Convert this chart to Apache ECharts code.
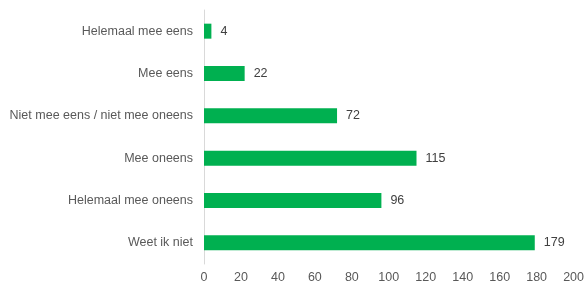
<!DOCTYPE html>
<html>
<head>
<meta charset="utf-8">
<script src="https://cdn.jsdelivr.net/npm/echarts@6/dist/echarts.min.js"></script>
<style>
  html, body { margin: 0; padding: 0; background: #fff; }
  #chart { width: 587px; height: 284px; }
</style>
</head>
<body>
<div id="chart"></div>
<script>
// top to bottom as in the picture
const categories = ['Helemaal mee eens', 'Mee eens', 'Niet mee eens / niet mee oneens', 'Mee oneens', 'Helemaal mee oneens', 'Weet ik niet']
const counts = [4, 22, 72, 115, 96, 179]
const xTicks = [0, 20, 40, 60, 80, 100, 120, 140, 160, 180, 200]

const chart = echarts.init(document.getElementById('chart'))

chart.setOption({
  animation: false,
  textStyle: { fontFamily: 'Liberation Sans, Arial, sans-serif' },
  grid: {
    left: 204,
    right: 11,
    top: 10,
    bottom: 19.5
  },
  xAxis: {
    type: 'value',
    min: xTicks[0],
    max: xTicks[xTicks.length - 1],
    interval: 20,
    axisLine: { show: false },
    axisTick: { show: false },
    splitLine: { show: false },
    axisLabel: { color: '#595959', fontSize: 12.5, margin: 7 }
  },
  yAxis: {
    type: 'category',
    inverse: true,
    data: categories,
    axisLine: { show: true, lineStyle: { color: '#d9d9d9', width: 1 } },
    axisTick: { show: false },
    axisLabel: { color: '#595959', fontSize: 12.5, margin: 11 }
  },
  series: [
    {
      type: 'bar',
      data: counts,
      barWidth: 15,
      itemStyle: { color: '#00b050' },
      label: {
        show: true,
        position: 'right',
        distance: 9,
        color: '#404040',
        fontSize: 12.5
      }
    }
  ]
})
</script>
</body>
</html>
